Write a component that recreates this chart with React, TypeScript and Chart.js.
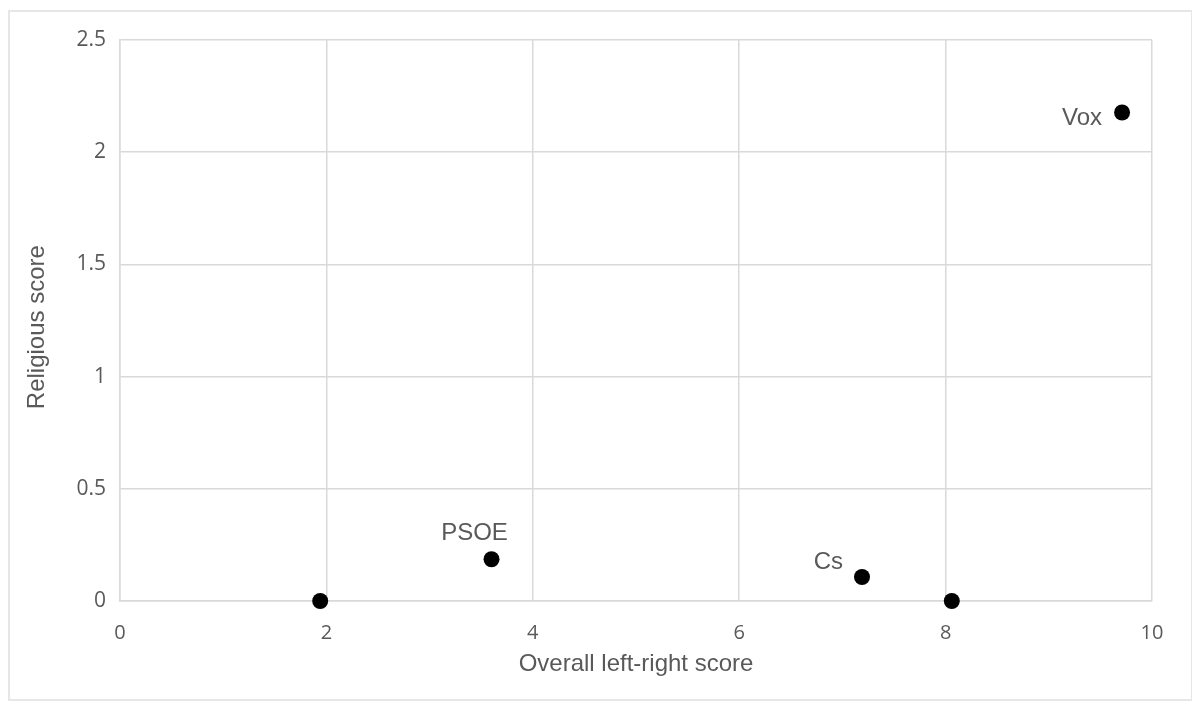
import React, { useEffect, useRef } from "react";
import { Chart, registerables } from "chart.js";

Chart.register(...registerables);

// Data
const leftRightScores = [1.94, 3.6, 7.19, 8.06, 9.71];
const religiousScores = [0, 0.186, 0.107, 0, 2.177];
const partyLabels = ["", "PSOE", "Cs", "", "Vox"];
const xTickValues = [0, 2, 4, 6, 8, 10];
const yTickValues = [0, 0.5, 1, 1.5, 2, 2.5];
const xTitle = "Overall left-right score";
const yTitle = "Religious score";

// Label placement styles (relative to each point)
const labelPlacement: Record<string, { dx: number; dy: number; align: CanvasTextAlign }> = {
  PSOE: { dx: -17, dy: -26, align: "center" },
  Cs: { dx: -19, dy: -15, align: "right" },
  Vox: { dx: -20, dy: 6, align: "right" },
};

const TEXT_COLOR = "#595959";
const GRID_COLOR = "#d9d9d9";

const pointLabelPlugin = {
  id: "pointLabels",
  afterDatasetsDraw(chart: any) {
    const ctx = chart.ctx;
    const meta = chart.getDatasetMeta(0);
    ctx.save();
    ctx.font = "24px 'Liberation Sans', Arial, sans-serif";
    ctx.fillStyle = TEXT_COLOR;
    ctx.textBaseline = "middle";
    meta.data.forEach((el: any, i: number) => {
      const txt = partyLabels[i];
      if (!txt) return;
      const p = labelPlacement[txt] || { dx: 0, dy: -20, align: "center" };
      ctx.textAlign = p.align;
      ctx.fillText(txt, el.x + p.dx, el.y + p.dy);
    });
    ctx.restore();
  },
};

export default function App() {
  const canvasRef = useRef<HTMLCanvasElement | null>(null);

  useEffect(() => {
    if (!canvasRef.current) return;
    const points = leftRightScores.map((x, i) => ({ x, y: religiousScores[i] }));
    const chart = new Chart(canvasRef.current, {
      type: "scatter",
      data: {
        datasets: [
          {
            label: "Parties",
            data: points,
            backgroundColor: "#000000",
            borderColor: "#000000",
            pointRadius: 8,
            pointHoverRadius: 8,
            pointBorderWidth: 0,
            clip: false,
          },
        ],
      },
      options: {
        animation: false,
        responsive: false,
        maintainAspectRatio: false,
        layout: { padding: { top: 28, right: 39, left: 0, bottom: 0 } },
        plugins: {
          legend: { display: false },
          tooltip: { enabled: false },
        },
        scales: {
          x: {
            type: "linear",
            min: 0,
            max: 10,
            afterFit(scale: any) {
              scale.height = 98;
            },
            afterBuildTicks(scale: any) {
              scale.ticks = xTickValues.map((v) => ({ value: v }));
            },
            grid: { color: GRID_COLOR, lineWidth: 1.5, drawTicks: false },
            border: { display: true, color: GRID_COLOR, width: 1.5 },
            ticks: {
              padding: 20,
              color: TEXT_COLOR,
              font: { family: "'Open Sans', sans-serif", size: 20 },
              maxRotation: 0,
              callback: (v: any) => String(v),
            },
            title: {
              display: true,
              text: xTitle,
              color: TEXT_COLOR,
              font: { family: "'Liberation Sans', Arial, sans-serif", size: 24 },
              padding: { top: 0, bottom: 20 },
            },
          },
          y: {
            type: "linear",
            min: 0,
            max: 2.5,
            afterFit(scale: any) {
              scale.width = 110;
            },
            afterBuildTicks(scale: any) {
              scale.ticks = yTickValues.map((v) => ({ value: v }));
            },
            grid: { color: GRID_COLOR, lineWidth: 1.5, drawTicks: false },
            border: { display: true, color: GRID_COLOR, width: 1.5 },
            ticks: {
              padding: 14,
              color: TEXT_COLOR,
              font: { family: "'Open Sans', sans-serif", size: 21 },
              callback: (v: any) => String(v),
            },
            title: {
              display: true,
              text: yTitle + "  ",
              color: TEXT_COLOR,
              font: { family: "'Liberation Sans', Arial, sans-serif", size: 24 },
              padding: { top: 13, bottom: 0 },
            },
          },
        },
      },
      plugins: [pointLabelPlugin],
    } as any);
    return () => chart.destroy();
  }, []);

  return (
    <div
      style={{
        width: 1185,
        height: 691,
        boxSizing: "border-box",
        border: "2px solid #e6e6e6",
        marginTop: 2,
        background: "#ffffff",
      }}
    >
      <canvas ref={canvasRef} width={1181} height={687} style={{ display: "block" }} />
    </div>
  );
}
